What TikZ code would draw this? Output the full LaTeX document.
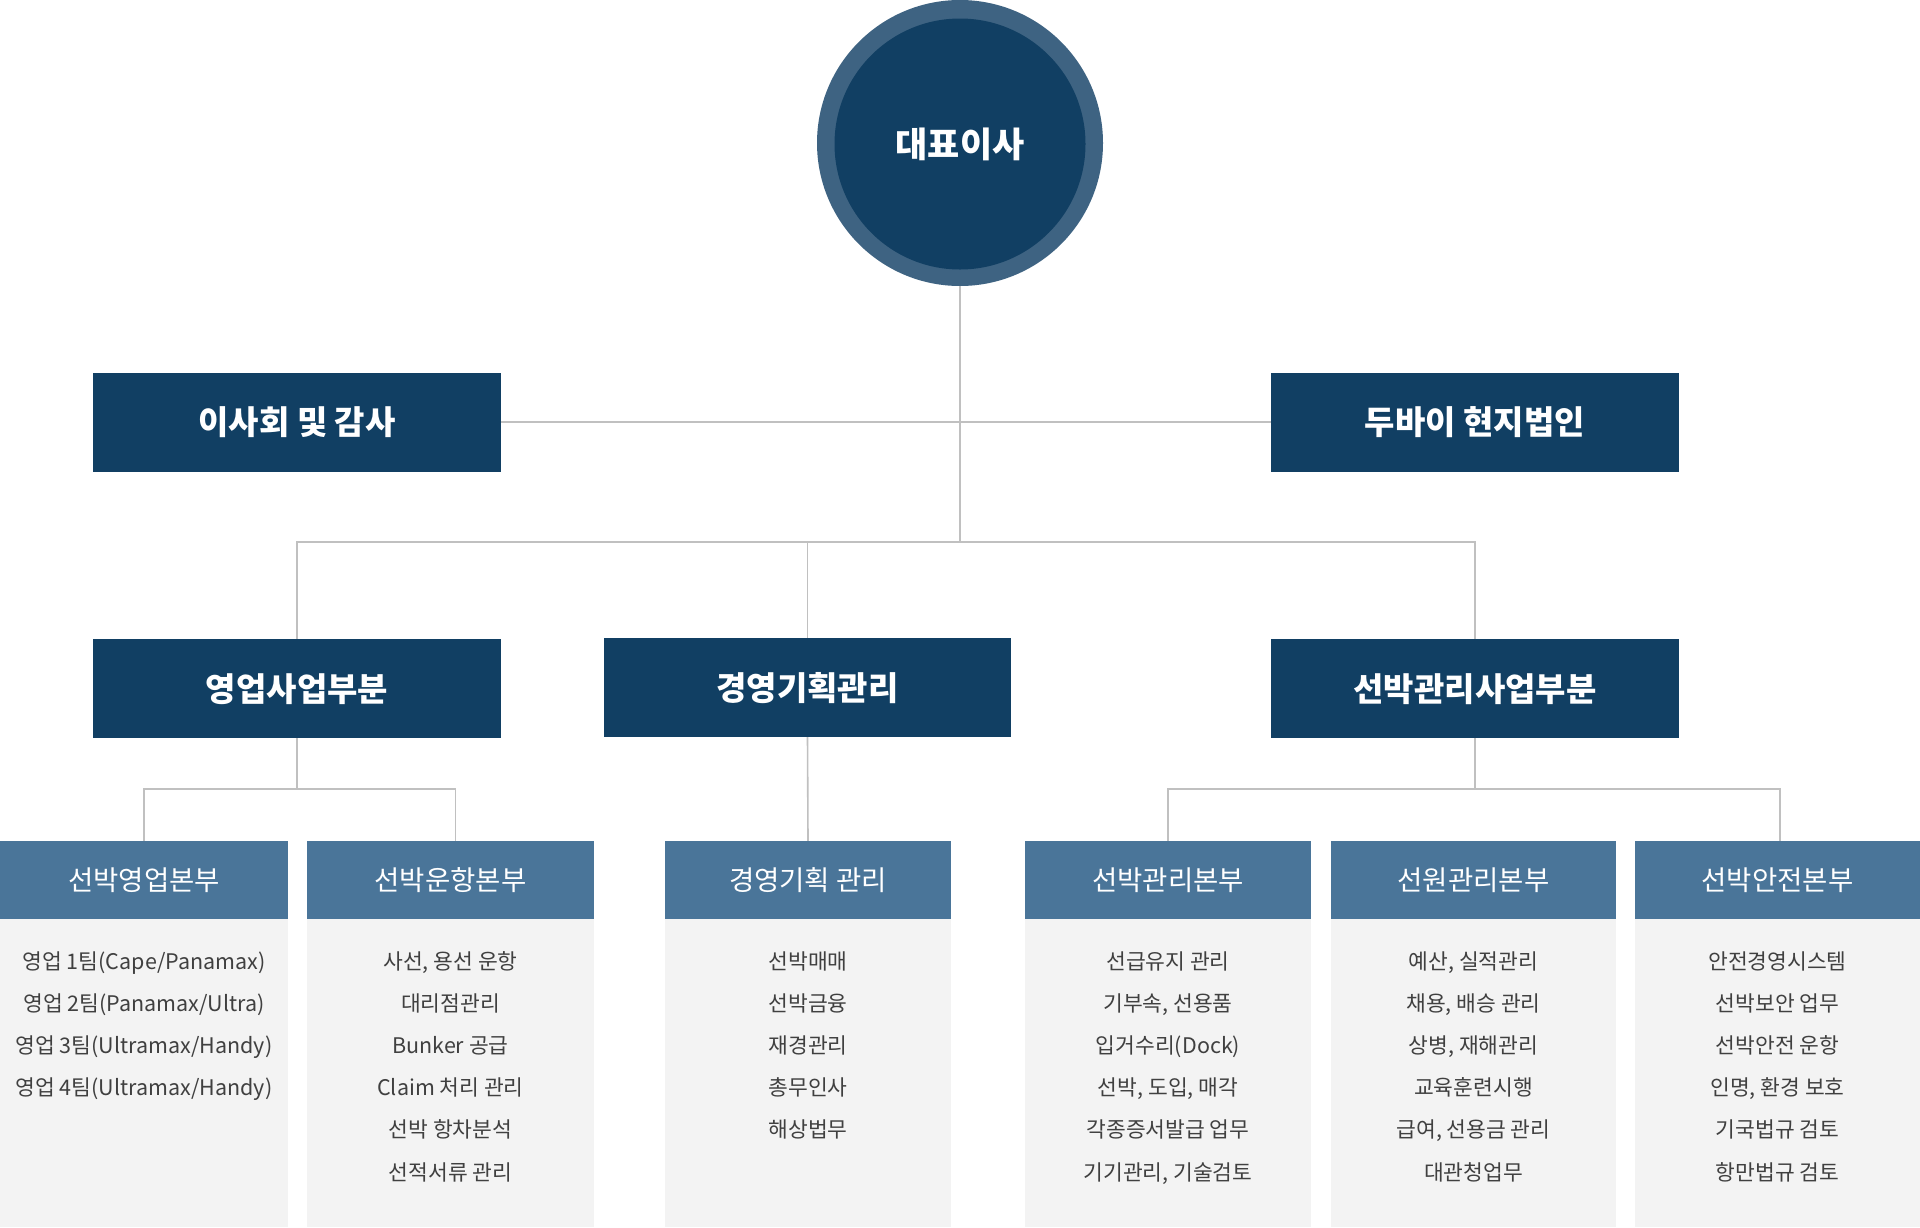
\documentclass[tikz,border=0pt]{standalone}
\usepackage{fontspec}
\setmainfont{Noto Sans CJK KR}
\definecolor{navy}{RGB}{17,63,99}
\definecolor{ring}{RGB}{62,99,130}
\definecolor{hdr}{RGB}{74,117,153}
\definecolor{bodybg}{RGB}{243,243,243}
\definecolor{lnc}{RGB}{192,192,192}
\definecolor{txt}{RGB}{64,64,64}
\begin{document}
\begin{tikzpicture}[x=1pt,y=-1pt,
  topbox/.style={rectangle, fill=navy, text=white, inner sep=0,
    font=\bfseries\fontsize{33}{38}\selectfont, text height=29pt, text depth=4pt,
    minimum width=408, minimum height=99},
  hdrbox/.style={rectangle, fill=hdr, text=white, inner sep=0,
    font=\fontsize{27.5}{32}\selectfont, text height=24.2pt, text depth=3.3pt,
    minimum height=78},
  bodybox/.style={rectangle, fill=bodybg, inner sep=0, minimum height=308},
  bodytxt/.style={inner sep=0, text=txt, font=\fontsize{21.5}{25}\selectfont,
    text height=18.9pt, text depth=2.6pt},
  conn/.style={draw=lnc, line width=1.6pt}]
\useasboundingbox (0,0) rectangle (1920,1227);
\fill[white] (0,0) rectangle (1920,1227);

% CEO circle
\node[circle, fill=ring, minimum size=286, inner sep=0] (ceoring) at (960,143) {};
\node[circle, fill=navy, minimum size=251, inner sep=0, text=white,
  font=\bfseries\fontsize{35}{40}\selectfont, text height=30.8pt, text depth=4.2pt] (ceo) at (960,144) {대표이사};

% level 1/2 boxes
\node[topbox] (board) at (297,422) {이사회 및 감사};
\node[topbox] (dubai) at (1475,422) {두바이 현지법인};
\node[topbox] (sales) at (297,688.5) {영업사업부분};
\node[topbox, minimum width=407] (plan) at (807.5,687.5) {경영기획관리};
\node[topbox] (ship) at (1475,688.5) {선박관리사업부분};

% level 3 headers
\node[hdrbox, minimum width=288] (hA) at (144,880) {선박영업본부};
\node[hdrbox, minimum width=287] (hB) at (450.5,880) {선박운항본부};
\node[hdrbox, minimum width=286] (hC) at (808,880) {경영기획 관리};
\node[hdrbox, minimum width=286] (hD) at (1168,880) {선박관리본부};
\node[hdrbox, minimum width=285] (hE) at (1473.5,880) {선원관리본부};
\node[hdrbox, minimum width=285] (hF) at (1777.5,880) {선박안전본부};

% bodies
\node[bodybox, minimum width=288, anchor=north] (bA) at (hA.south) {};
\node[bodybox, minimum width=287, anchor=north] (bB) at (hB.south) {};
\node[bodybox, minimum width=286, anchor=north] (bC) at (hC.south) {};
\node[bodybox, minimum width=286, anchor=north] (bD) at (hD.south) {};
\node[bodybox, minimum width=285, anchor=north] (bE) at (hE.south) {};
\node[bodybox, minimum width=285, anchor=north] (bF) at (hF.south) {};

\foreach \t [count=\i] in {영업 1팀(Cape/Panamax), 영업 2팀(Panamax/Ultra), 영업 3팀(Ultramax/Handy), 영업 4팀(Ultramax/Handy)}
  \node[bodytxt] (tA\i) at (144,{961+42.2*(\i-1)}) {\t};
\foreach \t [count=\i] in {{사선, 용선 운항}, 대리점관리, Bunker 공급, Claim 처리 관리, 선박 항차분석, 선적서류 관리}
  \node[bodytxt] (tB\i) at (450.5,{961+42.2*(\i-1)}) {\t};
\foreach \t [count=\i] in {선박매매, 선박금융, 재경관리, 총무인사, 해상법무}
  \node[bodytxt] (tC\i) at (808,{961+42.2*(\i-1)}) {\t};
\foreach \t [count=\i] in {선급유지 관리, {기부속, 선용품}, 입거수리(Dock), {선박, 도입, 매각}, 각종증서발급 업무, {기기관리, 기술검토}}
  \node[bodytxt] (tD\i) at (1168,{961+42.2*(\i-1)}) {\t};
\foreach \t [count=\i] in {{예산, 실적관리}, {채용, 배승 관리}, {상병, 재해관리}, 교육훈련시행, {급여, 선용금 관리}, 대관청업무}
  \node[bodytxt] (tE\i) at (1473.5,{961+42.2*(\i-1)}) {\t};
\foreach \t [count=\i] in {안전경영시스템, 선박보안 업무, 선박안전 운항, {인명, 환경 보호}, 기국법규 검토, 항만법규 검토}
  \node[bodytxt] (tF\i) at (1777.5,{961+42.2*(\i-1)}) {\t};

% connectors
\coordinate (j1) at (960,542);
\coordinate (j2) at (297,789);
\coordinate (j3) at (1475,789);
\draw[conn] (board.east) -- (dubai.west);
\draw[conn] (ceoring.south) -- (j1);
\draw[conn] (sales.north) |- (j1);
\draw[conn] (ship.north) |- (j1);
\draw[conn] (plan.north) -- (plan.north |- j1);
\draw[conn] (sales.south) -- (j2);
\draw[conn] (hA.north) |- (j2);
\draw[conn] ([xshift=5pt]hB.north) |- (j2);
\draw[conn] (plan.south) -- (hC.north);
\draw[conn] (ship.south) -- (j3);
\draw[conn] (hD.north) |- (j3);
\draw[conn] ([xshift=2.5pt]hF.north) |- (j3);
\end{tikzpicture}
\end{document}
